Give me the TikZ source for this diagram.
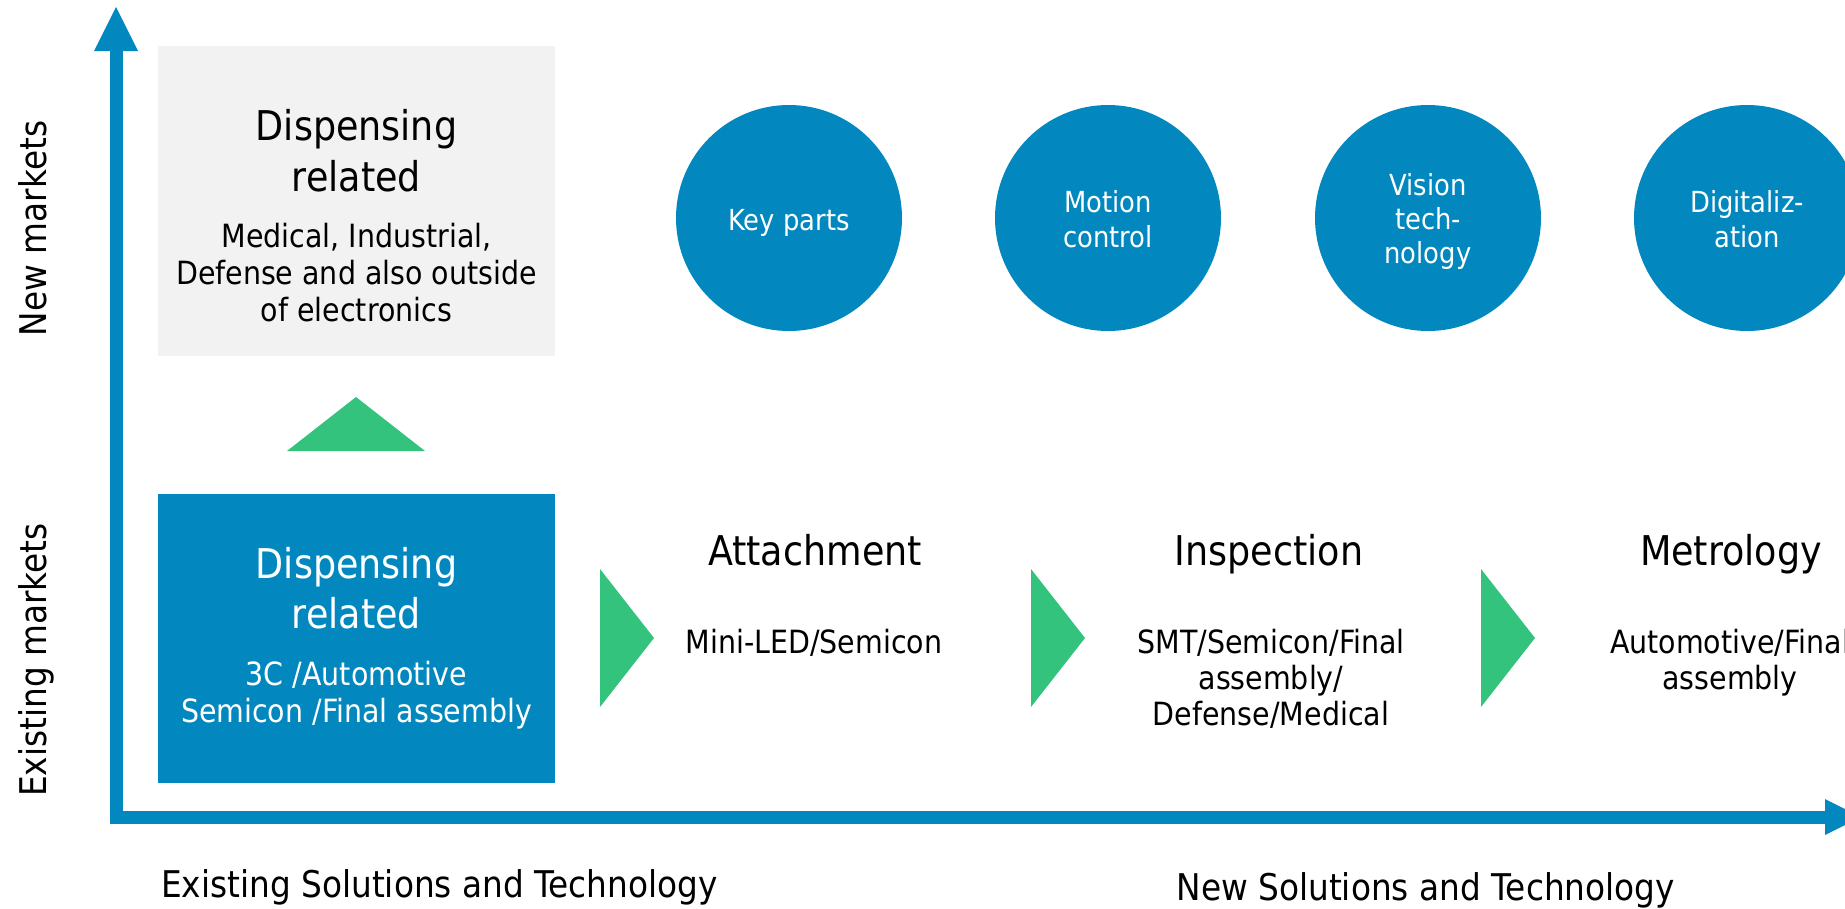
\documentclass[tikz,border=0pt]{standalone}
\usepackage{fontspec}
\setmainfont{DejaVu Sans}[FakeStretch=0.89]
\definecolor{axisblue}{HTML}{0288BF}
\definecolor{arrowgreen}{HTML}{33C37D}
\definecolor{boxgrey}{HTML}{F2F2F2}
\tikzset{
  title/.style={font=\fontsize{41}{50}\selectfont, inner sep=0pt, anchor=base},
  sub/.style={font=\fontsize{32}{38}\selectfont, inner sep=0pt, anchor=base},
  circtxt/.style={font=\fontsize{29}{35}\selectfont, text=white, inner sep=0pt, anchor=base},
  axislabel/.style={font=\fontsize{36.8}{44}\selectfont, inner sep=0pt, anchor=base},
  tech/.style={circle, fill=axisblue, minimum size=226pt, inner sep=0pt},
  panel/.style={rectangle, minimum width=397pt, inner sep=0pt},
  axisline/.style={draw=axisblue, line width=13pt, line join=miter},
  chevron/.style={fill=arrowgreen},
}
\begin{document}
\begin{tikzpicture}[x=1pt,y=-1pt]
\useasboundingbox (0,0) rectangle (1845,908);
\clip (0,0) rectangle (1845,908);

% panels
\node[panel, fill=boxgrey, minimum height=310pt] (newdisp) at (356.5,201) {};
\node[panel, fill=axisblue, minimum height=289pt] (olddisp) at (356.5,638.5) {};

\node[title] (nd1) at (356.5,140) {Dispensing};
\node[title] (nd2) at (356.5,191) {related};
\node[sub] (nd3) at (356.5,247) {Medical, Industrial,};
\node[sub] (nd4) at (356.5,284) {Defense and also outside};
\node[sub] (nd5) at (356.5,321) {of electronics};

\node[title, text=white] (od1) at (356.5,578) {Dispensing};
\node[title, text=white] (od2) at (356.5,628) {related};
\node[sub, text=white] (od3) at (356.5,685) {3C /Automotive};
\node[sub, text=white] (od4) at (356.5,722) {Semicon /Final assembly};

% technology circles
\node[tech] (keyparts) at (789,218) {};
\node[tech] (motion) at (1108,218) {};
\node[tech] (vision) at (1428,218) {};
\node[tech] (digital) at (1747,218) {};

\node[circtxt] (kp1) at (789,230) {Key parts};
\node[circtxt] (mc1) at (1108,212) {Motion};
\node[circtxt] (mc2) at (1108,247) {control};
\node[circtxt] (vt1) at (1428,195) {Vision};
\node[circtxt] (vt2) at (1428,229) {tech-};
\node[circtxt] (vt3) at (1428,263) {nology};
\node[circtxt] (dg1) at (1747,212) {Digitaliz-};
\node[circtxt] (dg2) at (1747,247) {ation};

% green arrows
\fill[chevron] (287,451) -- (425,451) -- (356,397) -- cycle;
\fill[chevron] (600,569) -- (600,707) -- (654,638) -- cycle;
\fill[chevron] (1031,569) -- (1031,707) -- (1085,638) -- cycle;
\fill[chevron] (1481,569) -- (1481,707) -- (1535,638) -- cycle;

% stages
\node[title] (att) at (815,565) {Attachment};
\node[sub] (att1) at (814,653) {Mini-LED/Semicon};
\node[title] (insp) at (1269,565) {Inspection};
\node[sub] (insp1) at (1271,653) {SMT/Semicon/Final};
\node[sub] (insp2) at (1271,689) {assembly/};
\node[sub] (insp3) at (1271,725) {Defense/Medical};
\node[title] (met) at (1731,565) {Metrology};
\node[sub] (met1) at (1730,653) {Automotive/Final};
\node[sub] (met2) at (1730,689) {assembly};

% axes
\coordinate (origin) at (116,817);
\coordinate (ytop) at (116,51);
\coordinate (xend) at (1826,817);
\draw[axisline] (ytop) -- (origin) -- (xend);
\fill[axisblue] (94,51) -- (138,51) -- (116,7) -- cycle;
\fill[axisblue] (1825,799) -- (1825,835) -- (1861,817) -- cycle;

\node[axislabel, rotate=90] (newm) at (46,228.5) {New markets};
\node[axislabel, rotate=90] (oldm) at (46,660) {Existing markets};
\node[axislabel, anchor=base west] (oldsol) at (161,897) {Existing Solutions and Technology};
\node[axislabel, anchor=base east] (newsol) at (1675,900) {New Solutions and Technology};
\end{tikzpicture}
\end{document}
